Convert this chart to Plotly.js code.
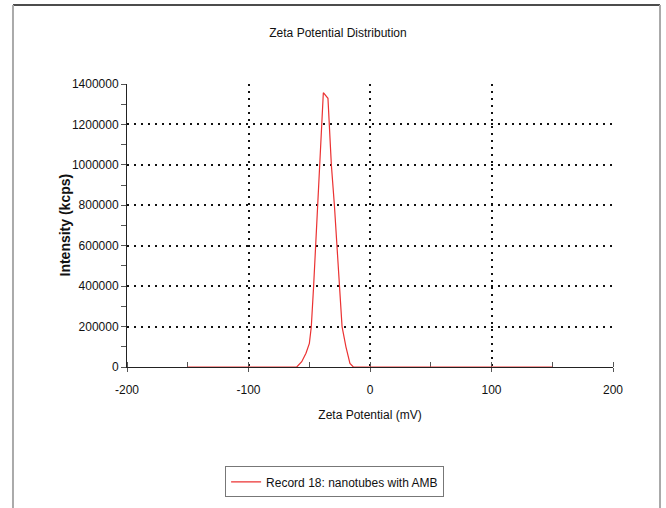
<!DOCTYPE html>
<html>
<head>
<meta charset="utf-8">
<script src="https://cdn.plot.ly/plotly-3.0.1.min.js"></script>
<style>html,body{margin:0;padding:0;background:#fff;}#chart{width:666px;height:508px;}</style>
</head>
<body>
<div id="chart"></div>
<script>
// Zeta potential (mV)
const zeta = [-150, -60.3, -56.2, -52.7, -49.9, -48.3, -46.4, -44.7, -43, -41.4, -40.1, -38.4, -34.6, -33.4, -31.8, -29.3, -27.4, -25.5, -23, -19.8, -16.5, -13.7, 150];
// Intensity (kcps)
const intensity = [0, 0, 26000, 68000, 117000, 200000, 400000, 600000, 800000, 1000000, 1200000, 1357000, 1329000, 1200000, 1000000, 800000, 600000, 400000, 200000, 100000, 18000, 0, 0];
const seriesName = 'Record 18: nanotubes with AMB';
const xTicks = [-200, -100, 0, 100, 200];
const yTicks = [0, 200000, 400000, 600000, 800000, 1000000, 1200000, 1400000];
const yTitle = 'Intensity (kcps)';

const FONT = '"Liberation Sans", Arial, sans-serif';

const trace = {
  x: zeta, y: intensity, type: 'scatter', mode: 'lines', name: seriesName,
  line: {color: 'rgb(235,50,50)', width: 1.2}, cliponaxis: false
};

const layout = {
  width: 666, height: 508,
  margin: {l: 127, r: 53, t: 84, b: 141, autoexpand: false},
  paper_bgcolor: '#fff', plot_bgcolor: '#fff',
  font: {family: FONT, size: 12, color: '#111'},
  title: {text: 'Zeta Potential Distribution', font: {family: FONT, size: 12, color: '#111'},
          xref: 'container', yref: 'container', x: 0.5075, y: 0.935, xanchor: 'center', yanchor: 'middle'},
  showlegend: true,
  legend: {xref: 'container', yref: 'container', x: 0.338, y: 0.082, xanchor: 'left', yanchor: 'top', bgcolor: '#fff',
           bordercolor: '#777', borderwidth: 1, font: {family: FONT, size: 12, color: '#111'}},
  xaxis: {
    range: [-200, 200], tickvals: xTicks, ticktext: xTicks.map(String),
    showline: true, linecolor: '#222', linewidth: 1, layer: 'below traces',
    ticks: 'outside', ticklen: 4, tickcolor: '#555', ticklabelstandoff: 8,
    minor: {dtick: 50, tick0: -150, ticks: 'inside', ticklen: 5, tickcolor: '#555', showgrid: false},
    showgrid: true, gridcolor: '#111', griddash: '2px,5px', gridwidth: 2, zeroline: false,
    tickfont: {family: FONT, size: 12, color: '#111'},
    title: {text: 'Zeta Potential (mV)', font: {family: FONT, size: 12, color: '#111'}, standoff: 14},
    fixedrange: true
  },
  yaxis: {
    range: [0, 1400000], tickvals: yTicks, ticktext: yTicks.map(String),
    showline: true, linecolor: '#222', linewidth: 1, layer: 'below traces',
    ticks: 'outside', ticklen: 5, tickcolor: '#555',
    minor: {dtick: 100000, ticks: 'outside', ticklen: 5, tickcolor: '#555', showgrid: false},
    showgrid: true, gridcolor: '#111', griddash: '2px,5px', gridwidth: 2, zeroline: false,
    tickfont: {family: FONT, size: 12, color: '#111'},
    fixedrange: true
  },
  annotations: [
    {text: yTitle, xref: 'paper', yref: 'paper', x: -0.1296, y: 0.5, xanchor: 'center', yanchor: 'middle',
     textangle: -90, showarrow: false, font: {family: FONT, size: 14, color: '#111', weight: 'bold'}}
  ],
  shapes: [
    {type: 'line', xref: 'paper', yref: 'paper', x0: -0.2346, x1: 1.0967, y0: 1.279, y1: 1.279, line: {color: '#111', width: 1.5}},
    {type: 'line', xref: 'paper', yref: 'paper', x0: -0.2346, x1: -0.2346, y0: 1.279, y1: -0.5, line: {color: '#aaa', width: 2}},
    {type: 'line', xref: 'paper', yref: 'paper', x0: 1.0967, x1: 1.0967, y0: 1.279, y1: -0.5, line: {color: '#aaa', width: 2}}
  ]
};

Plotly.newPlot('chart', [trace], layout, {displayModeBar: false, staticPlot: true});
</script>
</body>
</html>
